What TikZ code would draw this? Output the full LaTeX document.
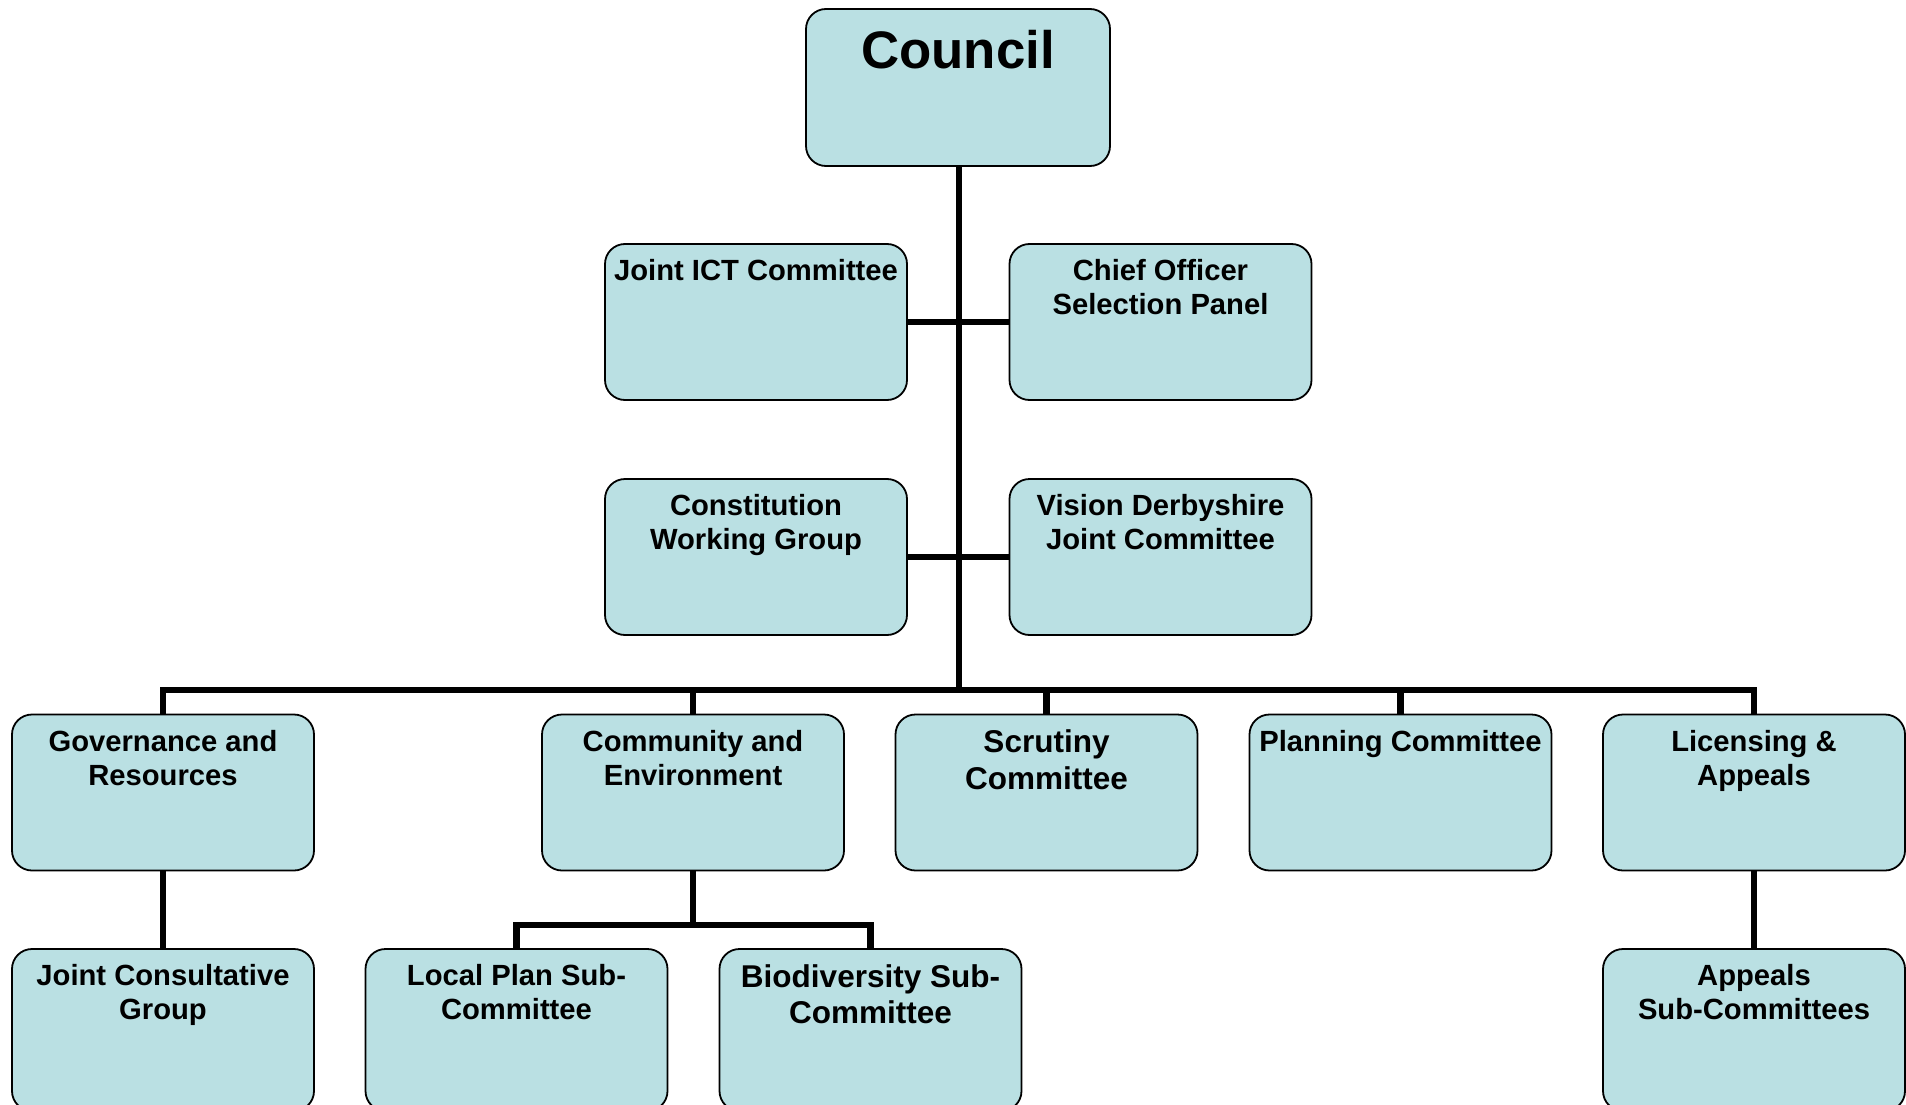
\documentclass[tikz,border=0pt]{standalone}
\usepackage{fontspec}
\setmainfont{Liberation Sans}
\usetikzlibrary{backgrounds}
\definecolor{boxfill}{HTML}{BAE0E3}
\begin{document}
\begin{tikzpicture}[x=1pt,y=-1pt,
  box/.style={draw=black, line width=1.8pt, fill=boxfill, rounded corners=20pt,
    minimum width=302pt, minimum height=156pt, inner sep=0pt, outer sep=0pt},
  lowbox/.style={box, minimum height=162pt},
  lbl/.style={anchor=north, align=center, inner sep=0pt,
    font=\bfseries\fontsize{29.2}{34}\selectfont},
  biglbl/.style={lbl, font=\bfseries\fontsize{31.5}{36.5}\selectfont},
  titlelbl/.style={lbl, font=\bfseries\fontsize{52.8}{60}\selectfont},
  conn/.style={draw=black, line width=6.5pt, line join=miter}]
\useasboundingbox (0,0) rectangle (1906,1105);

% boxes
\node[box, minimum width=304pt, minimum height=157pt] (council) at (958,87.5) {};
\node[box] (jict) at (756,322) {};
\node[box] (chief) at (1160.5,322) {};
\node[box] (cwg) at (756,557) {};
\node[box] (vdjc) at (1160.5,557) {};
\node[box] (gov) at (163,792.5) {};
\node[box] (comm) at (693,792.5) {};
\node[box] (scr) at (1046.5,792.5) {};
\node[box] (plan) at (1400.5,792.5) {};
\node[box] (lic) at (1754,792.5) {};
\node[lowbox] (jcg) at (163,1030) {};
\node[lowbox] (lps) at (516.5,1030) {};
\node[lowbox] (bio) at (870.5,1030) {};
\node[lowbox] (app) at (1754,1030) {};

% labels
\node[titlelbl] (tcouncil) at ([yshift=-21pt]council.north) {Council};
\node[lbl] (tjict) at ([yshift=-15.5pt]jict.north) {Joint ICT Committee};
\node[lbl] (tchief) at ([yshift=-15.5pt]chief.north) {Chief Officer\\Selection Panel};
\node[lbl] (tcwg) at ([yshift=-15.5pt]cwg.north) {Constitution\\Working Group};
\node[lbl] (tvdjc) at ([yshift=-15.5pt]vdjc.north) {Vision Derbyshire\\Joint Committee};
\node[lbl] (tgov) at ([yshift=-15.5pt]gov.north) {Governance and\\Resources};
\node[lbl] (tcomm) at ([yshift=-15.5pt]comm.north) {Community and\\Environment};
\node[biglbl] (tscr) at ([yshift=-15pt]scr.north) {Scrutiny\\Committee};
\node[lbl] (tplan) at ([yshift=-15.5pt]plan.north) {Planning Committee};
\node[lbl] (tlic) at ([yshift=-15.5pt]lic.north) {Licensing \&\\Appeals};
\node[lbl] (tjcg) at ([yshift=-15.5pt]jcg.north) {Joint Consultative\\Group};
\node[lbl] (tlps) at ([yshift=-15.5pt]lps.north) {Local Plan Sub-\\Committee};
\node[biglbl] (tbio) at ([yshift=-15pt]bio.north) {Biodiversity Sub-\\Committee};
\node[lbl] (tapp) at ([yshift=-15.5pt]app.north) {Appeals\\Sub-Committees};

% connectors
\coordinate (cbus) at (959,690);
\coordinate (csub) at (693,925);
\begin{pgfonlayer}{background}
\draw[conn] (council.south -| cbus) -- (cbus);
\draw[conn] (jict.east) -- (chief.west);
\draw[conn] (cwg.east) -- (vdjc.west);
\draw[conn] (gov.north) |- (cbus) -| (lic.north);
\draw[conn] (comm.north) -- (comm.north |- cbus);
\draw[conn] (scr.north) -- (scr.north |- cbus);
\draw[conn] (plan.north) -- (plan.north |- cbus);
\draw[conn] (comm.south) -- (csub);
\draw[conn] (lps.north) |- (csub) -| (bio.north);
\draw[conn] (gov.south) -- (jcg.north);
\draw[conn] (lic.south) -- (app.north);
\end{pgfonlayer}
\end{tikzpicture}
\end{document}
